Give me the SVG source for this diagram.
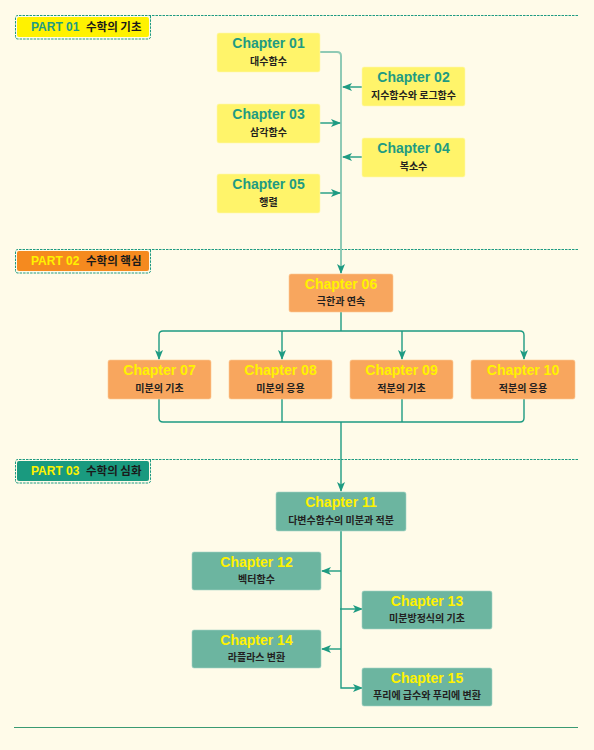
<svg xmlns="http://www.w3.org/2000/svg" width="594" height="750" viewBox="0 0 594 750">
<style>
.bg{fill:#fffbe9}
.dot{fill:none;stroke:#1e9b82;stroke-width:1;stroke-dasharray:2.5 1}
.ch{font-family:"Liberation Sans",Arial,sans-serif;font-weight:bold;font-size:14px;text-anchor:middle}
.kr{font-family:"Noto Sans CJK KR","Noto Sans",sans-serif;font-weight:bold;font-size:10px;text-anchor:middle;fill:#231f20}
.pt{font-family:"Liberation Sans",Arial,sans-serif;font-weight:bold;font-size:12px}
.pk{font-family:"Noto Sans CJK KR","Noto Sans",sans-serif;font-weight:bold;font-size:11.5px;fill:#1a1a1a}
.y{fill:#fff46a;stroke:#fff9b0;stroke-width:0.6}
.o{fill:#f8a65e;stroke:#fbc995;stroke-width:0.6}
.g{fill:#6cb5a0;stroke:#a5d4c6;stroke-width:0.6}
.tt{fill:#1e9b82}
.ty{fill:#fff200}
.lt{fill:none;stroke:#8fcab5;stroke-width:2}
.dk{fill:none;stroke:#1e9b82;stroke-width:1.4}
</style>
<defs>
<marker id="ah" markerUnits="userSpaceOnUse" markerWidth="10" markerHeight="8" refX="9" refY="4" orient="auto" viewBox="0 0 10 8">
<path d="M0,0 L10,4 L0,8 L2.5,4 z" fill="#1e9b82"/>
</marker>
</defs>
<rect class="bg" x="0" y="0" width="594" height="750"/>

<g id="part01">
<path class="dot" d="M578,15.5 H18 Q15.5,15.5 15.5,18 V36.5 Q15.5,39 18,39 H148 Q150.5,39 150.5,36.5 V15.5"/>
<rect x="17" y="17" width="132" height="20" rx="2" fill="#fff200"/>
<text class="pt" x="31" y="31" fill="#1e9b82">PART 01</text>
<text class="pk" x="86" y="31">수학의 기초</text>
</g>
<g id="part02">
<path class="dot" d="M578,249.5 H18 Q15.5,249.5 15.5,252 V270.5 Q15.5,273 18,273 H148 Q150.5,273 150.5,270.5 V249.5"/>
<rect x="17" y="251" width="132" height="20" rx="2" fill="#f58a1f"/>
<text class="pt" x="31" y="265" fill="#fff200">PART 02</text>
<text class="pk" x="86" y="265">수학의 핵심</text>
</g>
<g id="part03">
<path class="dot" d="M578,459.5 H18 Q15.5,459.5 15.5,462 V480.5 Q15.5,483 18,483 H148 Q150.5,483 150.5,480.5 V459.5"/>
<rect x="17" y="461" width="132" height="20" rx="2" fill="#1a9a7f"/>
<text class="pt" x="31" y="475" fill="#fff200">PART 03</text>
<text class="pk" x="86" y="475">수학의 심화</text>
</g>

<g id="connectors">
<path class="lt" d="M320,52 H337 Q341,52 341,56 V266"/>
<path class="dk" d="M341,266 V273" marker-end="url(#ah)"/>
<path class="dk" d="M362,87 H343" marker-end="url(#ah)"/>
<path class="dk" d="M320,123 H340" marker-end="url(#ah)"/>
<path class="dk" d="M362,157 H343" marker-end="url(#ah)"/>
<path class="dk" d="M320,193 H340" marker-end="url(#ah)"/>

<path class="dk" d="M341,312 V331"/>
<path class="dk" d="M341,331 H163 Q159,331 159,335 V359" marker-end="url(#ah)"/>
<path class="dk" d="M341,331 H520 Q524,331 524,335 V359" marker-end="url(#ah)"/>
<path class="dk" d="M282,331 V359" marker-end="url(#ah)"/>
<path class="dk" d="M402,331 V359" marker-end="url(#ah)"/>
<path class="dk" d="M159,399 V418 Q159,422 163,422 H520 Q524,422 524,418 V399"/>
<path class="dk" d="M282,399 V422"/>
<path class="dk" d="M402,399 V422"/>
<path class="dk" d="M341,422 V491" marker-end="url(#ah)"/>

<path class="dk" d="M341,531 V688 H362" marker-end="url(#ah)"/>
<path class="dk" d="M341,571 H322" marker-end="url(#ah)"/>
<path class="dk" d="M340,609 H362" marker-end="url(#ah)"/>
<path class="dk" d="M341,649 H322" marker-end="url(#ah)"/>
</g>

<g id="ch01"><rect class="y" x="217" y="33" width="103" height="39" rx="2"/><text class="ch tt" x="268.5" y="48">Chapter 01</text><text class="kr" x="268.5" y="65">대수함수</text></g>
<g id="ch02"><rect class="y" x="362" y="67" width="103" height="39" rx="2"/><text class="ch tt" x="413.5" y="82">Chapter 02</text><text class="kr" x="413.5" y="99">지수함수와 로그함수</text></g>
<g id="ch03"><rect class="y" x="217" y="104" width="103" height="39" rx="2"/><text class="ch tt" x="268.5" y="119">Chapter 03</text><text class="kr" x="268.5" y="136">삼각함수</text></g>
<g id="ch04"><rect class="y" x="362" y="138" width="103" height="39" rx="2"/><text class="ch tt" x="413.5" y="153">Chapter 04</text><text class="kr" x="413.5" y="170">복소수</text></g>
<g id="ch05"><rect class="y" x="217" y="174" width="103" height="39" rx="2"/><text class="ch tt" x="268.5" y="189">Chapter 05</text><text class="kr" x="268.5" y="206">행렬</text></g>

<g id="ch06"><rect class="o" x="289" y="274" width="104" height="38" rx="2"/><text class="ch ty" x="341" y="288.5">Chapter 06</text><text class="kr" x="341" y="305">극한과 연속</text></g>
<g id="ch07"><rect class="o" x="108" y="360" width="103" height="39" rx="2"/><text class="ch ty" x="159.5" y="375">Chapter 07</text><text class="kr" x="159.5" y="392">미분의 기초</text></g>
<g id="ch08"><rect class="o" x="229" y="360" width="103" height="39" rx="2"/><text class="ch ty" x="280.5" y="375">Chapter 08</text><text class="kr" x="280.5" y="392">미분의 응용</text></g>
<g id="ch09"><rect class="o" x="350" y="360" width="103" height="39" rx="2"/><text class="ch ty" x="401.5" y="375">Chapter 09</text><text class="kr" x="401.5" y="392">적분의 기초</text></g>
<g id="ch10"><rect class="o" x="471" y="360" width="104" height="39" rx="2"/><text class="ch ty" x="523" y="375">Chapter 10</text><text class="kr" x="523" y="392">적분의 응용</text></g>

<g id="ch11"><rect class="g" x="276" y="492" width="130" height="39" rx="2"/><text class="ch ty" x="341" y="507">Chapter 11</text><text class="kr" x="341" y="524">다변수함수의 미분과 적분</text></g>
<g id="ch12"><rect class="g" x="192" y="552" width="129" height="38" rx="2"/><text class="ch ty" x="256.5" y="567">Chapter 12</text><text class="kr" x="256.5" y="583">벡터함수</text></g>
<g id="ch13"><rect class="g" x="362" y="591" width="130" height="38" rx="2"/><text class="ch ty" x="427" y="606">Chapter 13</text><text class="kr" x="427" y="622">미분방정식의 기초</text></g>
<g id="ch14"><rect class="g" x="192" y="630" width="129" height="38" rx="2"/><text class="ch ty" x="256.5" y="645">Chapter 14</text><text class="kr" x="256.5" y="661">라플라스 변환</text></g>
<g id="ch15"><rect class="g" x="362" y="668" width="130" height="38" rx="2"/><text class="ch ty" x="427" y="683">Chapter 15</text><text class="kr" x="427" y="699">푸리에 급수와 푸리에 변환</text></g>

<line x1="14" y1="727.5" x2="578" y2="727.5" stroke="#3a9a72" stroke-width="1.2"/>
</svg>
